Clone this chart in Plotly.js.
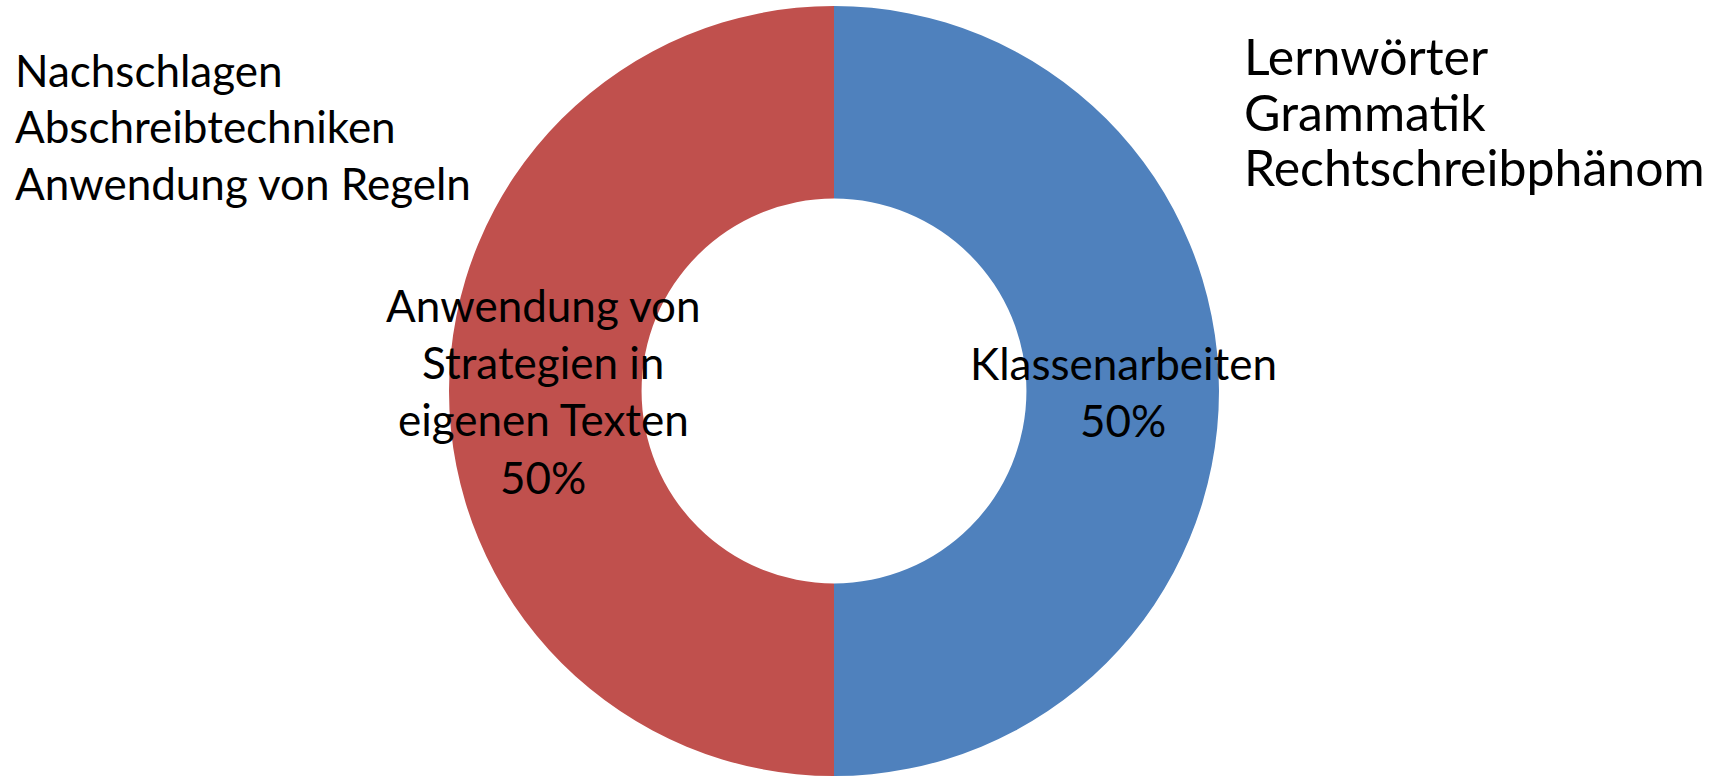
<!DOCTYPE html>
<html>
<head>
<meta charset="utf-8">
<script src="https://cdn.plot.ly/plotly-3.0.1.min.js"></script>
<style>html,body{margin:0;padding:0;background:#fff;}#chart{width:1723px;height:778px;}</style>
</head>
<body>
<div id="chart"></div>
<script>
const categories = ["Klassenarbeiten", "Anwendung von Strategien in eigenen Texten"];
const labelLines = [["Klassenarbeiten"], ["Anwendung von", "Strategien in", "eigenen Texten"]];
const values = [50, 50];
const colors = ["#4F81BD", "#C0504D"];
const leftNotes = ["Nachschlagen", "Abschreibtechniken", "Anwendung von Regeln"];
const rightNotes = ["Lernwörter", "Grammatik", "Rechtschreibphänom"];

const W = 1723, H = 778;
const FONT = "Lato, 'Open Sans', sans-serif";
const px = x => x / W;
const py = y => 1 - y / H;
const total = values.reduce((a, b) => a + b, 0);

const trace = {
  type: "pie",
  labels: categories,
  values: values,
  hole: 0.5,
  sort: false,
  direction: "clockwise",
  rotation: 0,
  marker: { colors: colors, line: { width: 0 } },
  textinfo: "none",
  hoverinfo: "label+percent",
  showlegend: false,
  domain: { x: [px(834 - 385), px(834 + 385)], y: [py(776), py(6)] }
};

const annotations = [];
// place one text line with its baseline at pixel y
function addLine(text, x, baseline, size, anchor) {
  annotations.push({
    xref: "paper", yref: "paper",
    x: px(x), y: py(baseline - 2 - 0.987 * size),
    xanchor: anchor, yanchor: "top", align: anchor,
    text: text, showarrow: false,
    font: { family: FONT, size: size, color: "#000" }
  });
}

// slice labels: centre x and first baseline
const labelAnchor = [[1123, 380], [543, 322]];
const LS = 57.4;
categories.forEach((c, i) => {
  const pct = Math.round(values[i] / total * 100) + "%";
  const lines = labelLines[i].concat([pct]);
  lines.forEach((t, k) => addLine(t, labelAnchor[i][0], labelAnchor[i][1] + k * LS, 44, "center"));
});
leftNotes.forEach((t, k) => addLine(t, 13, 87 + k * 56.7, 44, "left"));
rightNotes.forEach((t, k) => addLine(t, 1242, 75 + k * 55.9, 50, "left"));

const layout = {
  width: W, height: H,
  margin: { l: 0, r: 0, t: 0, b: 0 },
  paper_bgcolor: "#fff", plot_bgcolor: "#fff",
  annotations: annotations
};
Plotly.newPlot("chart", [trace], layout, { displayModeBar: false, staticPlot: true });
</script>
</body>
</html>
